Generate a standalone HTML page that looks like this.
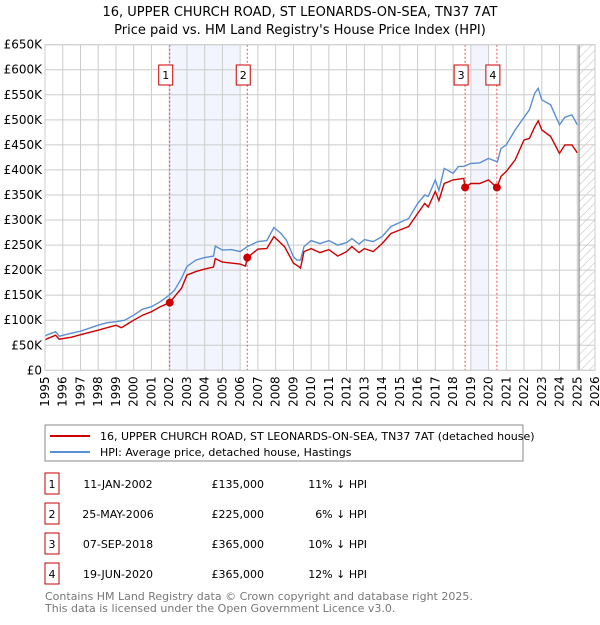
<!DOCTYPE html>
<html><head><meta charset="utf-8"><style>
body{margin:0;background:#fff;font-family:"Liberation Sans","DejaVu Sans",sans-serif;}
svg text{font-family:"DejaVu Sans","Liberation Sans",sans-serif;}
</style></head><body>
<svg id="chart" width="600" height="620" xmlns="http://www.w3.org/2000/svg">
<defs><pattern id="hatch" width="6" height="6" patternUnits="userSpaceOnUse" patternTransform="rotate(45)"><line x1="0" y1="0" x2="0" y2="6" stroke="#bbb" stroke-width="1"/></pattern></defs>
<text x="300" y="16" text-anchor="middle" font-size="13">16, UPPER CHURCH ROAD, ST LEONARDS-ON-SEA, TN37 7AT</text>
<text x="300" y="34" text-anchor="middle" font-size="13">Price paid vs. HM Land Registry's House Price Index (HPI)</text>
<g id="plot"></g>
<g>
<rect x="45" y="425" width="478" height="36" fill="#fff" stroke="#888"/>
<line x1="50" y1="436" x2="90" y2="436" stroke="#cc0000" stroke-width="2"/>
<text x="100" y="440" font-size="11">16, UPPER CHURCH ROAD, ST LEONARDS-ON-SEA, TN37 7AT (detached house)</text>
<line x1="50" y1="452" x2="90" y2="452" stroke="#5b8fd4" stroke-width="2"/>
<text x="100" y="456" font-size="11">HPI: Average price, detached house, Hastings</text>
</g>
<g id="table" font-size="11"></g>
<text x="45" y="600" font-size="11" fill="#777">Contains HM Land Registry data © Crown copyright and database right 2025.</text>
<text x="45" y="612" font-size="11" fill="#777">This data is licensed under the Open Government Licence v3.0.</text>
</svg>
<script>
const hpiYears=[1995,1995.6,1995.8,1996.5,1997,1998,1998.5,1999,1999.5,2000,2000.5,2001,2001.5,2002,2002.3,2002.7,2003,2003.5,2004,2004.5,2004.6,2005,2005.5,2006,2006.4,2007,2007.5,2007.9,2008.3,2008.6,2009,2009.2,2009.4,2009.6,2010,2010.5,2011,2011.5,2012,2012.3,2012.7,2013,2013.5,2014,2014.5,2015,2015.5,2016,2016.4,2016.6,2017,2017.2,2017.5,2018,2018.3,2018.6,2019,2019.5,2020,2020.5,2020.7,2021,2021.5,2022,2022.3,2022.6,2022.8,2023,2023.5,2024,2024.3,2024.7,2025];
const hpiValues=[69,77,68,74,78,90,95,97,100,110,122,127,137,150,160,184,207,220,225,228,248,240,241,237,247,257,259,285,273,260,227,220,220,247,259,253,259,250,255,263,252,261,257,267,287,295,303,333,350,347,380,359,403,393,407,407,413,414,423,416,443,450,480,505,520,553,563,540,530,490,505,510,490];
const paidYears=[1995,1995.6,1995.8,1996.5,1997,1998,1999,1999.3,2000,2000.5,2001,2001.5,2002.03,2002.3,2002.7,2003,2003.5,2004,2004.5,2004.6,2005,2006,2006.3,2006.4,2007,2007.5,2007.9,2008.5,2009,2009.3,2009.4,2009.6,2010,2010.5,2011,2011.5,2012,2012.3,2012.7,2013,2013.5,2014,2014.5,2015,2015.5,2016,2016.4,2016.6,2017,2017.2,2017.5,2018,2018.6,2018.68,2019,2019.5,2020,2020.47,2020.7,2021,2021.5,2022,2022.3,2022.6,2022.8,2023,2023.5,2024,2024.3,2024.7,2025];
const paidValues=[61,70,62,66,71,80,90,85,100,110,117,127,135,147,164,190,197,202,206,223,216,212,208,225,242,243,267,247,214,207,204,237,243,235,241,228,237,247,235,243,237,253,273,280,287,313,333,326,357,339,373,380,383,365,373,373,380,365,387,397,420,460,463,486,498,480,467,433,450,450,434];
const saleLabels=["1","2","3","4"];
const saleYears=[2002.03,2006.4,2018.68,2020.47];
const saleValues=[135,225,365,365];
const saleDates=["11-JAN-2002","25-MAY-2006","07-SEP-2018","19-JUN-2020"];
const salePrices=["£135,000","£225,000","£365,000","£365,000"];
const saleDiffs=["11% ↓ HPI","6% ↓ HPI","10% ↓ HPI","12% ↓ HPI"];
const shadeRanges=[[2002,2006],[2019,2020]];
const yTicks=[0,50,100,150,200,250,300,350,400,450,500,550,600,650];
const yTickLabels=["£0","£50K","£100K","£150K","£200K","£250K","£300K","£350K","£400K","£450K","£500K","£550K","£600K","£650K"];
const xMin=1995,xMax=2026,yMax=650,forecastStart=2025.1;
const L=45,R=595,T=44.7,B=370.3;
const X=y=>L+(y-xMin)/(xMax-xMin)*(R-L);
const Y=v=>B-v/yMax*(B-T);
const NS="http://www.w3.org/2000/svg";
const plot=document.getElementById('plot');
function mk(tag,attrs,parent){const e=document.createElementNS(NS,tag);for(const k in attrs)e.setAttribute(k,attrs[k]);(parent||plot).appendChild(e);return e;}
shadeRanges.forEach(r=>{const e=mk('rect',{x:X(r[0]),y:T,width:X(r[1])-X(r[0]),height:B-T,fill:'#f2f5fd'});

});
const h=mk('rect',{x:X(forecastStart),y:T,width:R-X(forecastStart),height:B-T,fill:'url(#hatch)'});


for(let yr=xMin;yr<=xMax;yr++){const g=mk('line',{x1:X(yr),x2:X(yr),y1:T,y2:B,stroke:'#ccc'});


const t=mk('text',{x:0,y:0,'font-size':12,'text-anchor':'end',transform:`translate(${X(yr)+4},${B+6}) rotate(-90)`});t.textContent=yr;

}
yTicks.forEach((v,i)=>{const g=mk('line',{x1:L,x2:R,y1:Y(v),y2:Y(v),stroke:'#ccc'});


const t=mk('text',{x:L-3,y:Y(v)+4,'font-size':12,'text-anchor':'end'});t.textContent=yTickLabels[i];

});
const fl=mk('line',{x1:X(forecastStart),x2:X(forecastStart),y1:T,y2:B,stroke:'#888','stroke-width':1.2});


saleYears.forEach((yr,i)=>{const l=mk('line',{x1:X(yr),x2:X(yr),y1:T,y2:B,stroke:'#e05050','stroke-dasharray':'2,2'});

});
function path(xs,vs,color,name){const d=xs.map((x,i)=>(i?'L':'M')+X(x).toFixed(1)+','+Y(vs[i]).toFixed(1)).join('');
const p=mk('path',{d:d,fill:'none',stroke:color,'stroke-width':1.4});

}
path(hpiYears,hpiValues,'#5b8fd4','hpi-line');
path(paidYears,paidValues,'#cc0000','price-paid-line');
saleYears.forEach((yr,i)=>{const c=mk('circle',{cx:X(yr),cy:Y(saleValues[i]),r:4,fill:'#cc0000'});


const b=mk('rect',{x:X(yr)-11,y:65,width:14,height:20,fill:'#fff',stroke:'#cc0000'});


const t=mk('text',{x:X(yr)-4,y:79,'font-size':11,'text-anchor':'middle'});t.textContent=saleLabels[i];

});
const fr=mk('rect',{x:L,y:T,width:R-L,height:B-T,fill:'none',stroke:'#ccc'});


const tb=document.getElementById('table');
saleLabels.forEach((s,i)=>{const cy=484+i*30;
const g=mk('g',{},tb);


mk('rect',{x:45,y:cy-11,width:14,height:21,fill:'#fff',stroke:'#cc0000'},g);
mk('text',{x:52,y:cy+4,'text-anchor':'middle'},g).textContent=s;
mk('text',{x:118,y:cy+4,'text-anchor':'middle'},g).textContent=saleDates[i];
mk('text',{x:264,y:cy+4,'text-anchor':'end'},g).textContent=salePrices[i];
mk('text',{x:367,y:cy+4,'text-anchor':'end'},g).textContent=saleDiffs[i];});
</script>
</body></html>
